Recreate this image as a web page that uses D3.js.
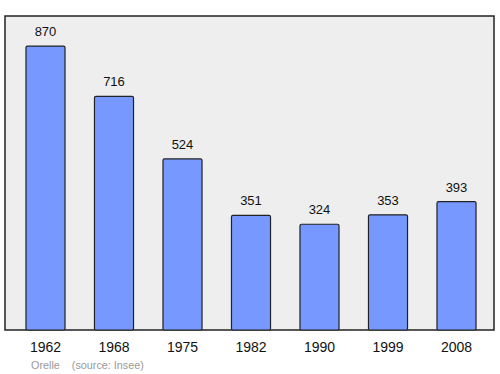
<!DOCTYPE html>
<html>
<head>
<meta charset="utf-8">
<script src="https://cdn.jsdelivr.net/npm/d3@7"></script>
<style>
  body { margin: 0; background: #fff; }
  text { font-family: "Liberation Sans", Arial, sans-serif; }
</style>
</head>
<body>
<div id="chart"></div>
<script>
var years = ["1962", "1968", "1975", "1982", "1990", "1999", "2008"];
var population = [870, 716, 524, 351, 324, 353, 393];
var place = "Orelle";
var source = "(source: Insee)";

const width = 500;
const height = 374;
const frame = {left: 5, top: 16, right: 494, bottom: 330};

var svg = d3.select("#chart")
  .append("svg")
  .attr("width", width)
  .attr("height", height);

// plot background + frame
svg.append("rect")
  .attr("x", frame.left)
  .attr("y", frame.top)
  .attr("width", frame.right - frame.left)
  .attr("height", frame.bottom - frame.top)
  .style("fill", "#eeeeee")
  .style("stroke", "#222")
  .style("stroke-width", 1.5);

var x = d3.scaleBand()
  .domain(years)
  .range([11.25, 490.75])
  .paddingInner(0.43)
  .paddingOuter(0.215);

var y = d3.scaleLinear()
  .domain([0, 962])
  .range([frame.bottom, frame.top]);

var bars = svg.selectAll(".bar")
  .data(years)
  .enter();

bars.append("rect")
  .attr("x", d => x(d))
  .attr("y", (d, i) => y(population[i]))
  .attr("width", x.bandwidth())
  .attr("height", (d, i) => y(0) - y(population[i]))
  .attr("rx", 1.5)
  .style("fill", "#7799ff")
  .style("stroke", "#222")
  .style("stroke-width", 1.2);

// value labels above bars
bars.append("text")
  .attr("x", d => x(d) + x.bandwidth() / 2)
  .attr("y", (d, i) => y(population[i]) - 10)
  .attr("text-anchor", "middle")
  .style("font-size", "13px")
  .style("fill", "#111")
  .text((d, i) => population[i]);

// year labels
bars.append("text")
  .attr("x", d => x(d) + x.bandwidth() / 2)
  .attr("y", 352)
  .attr("text-anchor", "middle")
  .style("font-size", "14px")
  .style("fill", "#111")
  .text(d => d);

svg.append("text")
  .attr("x", 31)
  .attr("y", 369)
  .style("font-size", "10.8px")
  .style("fill", "#999")
  .attr("xml:space", "preserve")
  .text(place + "    " + source);
</script>
</body>
</html>
